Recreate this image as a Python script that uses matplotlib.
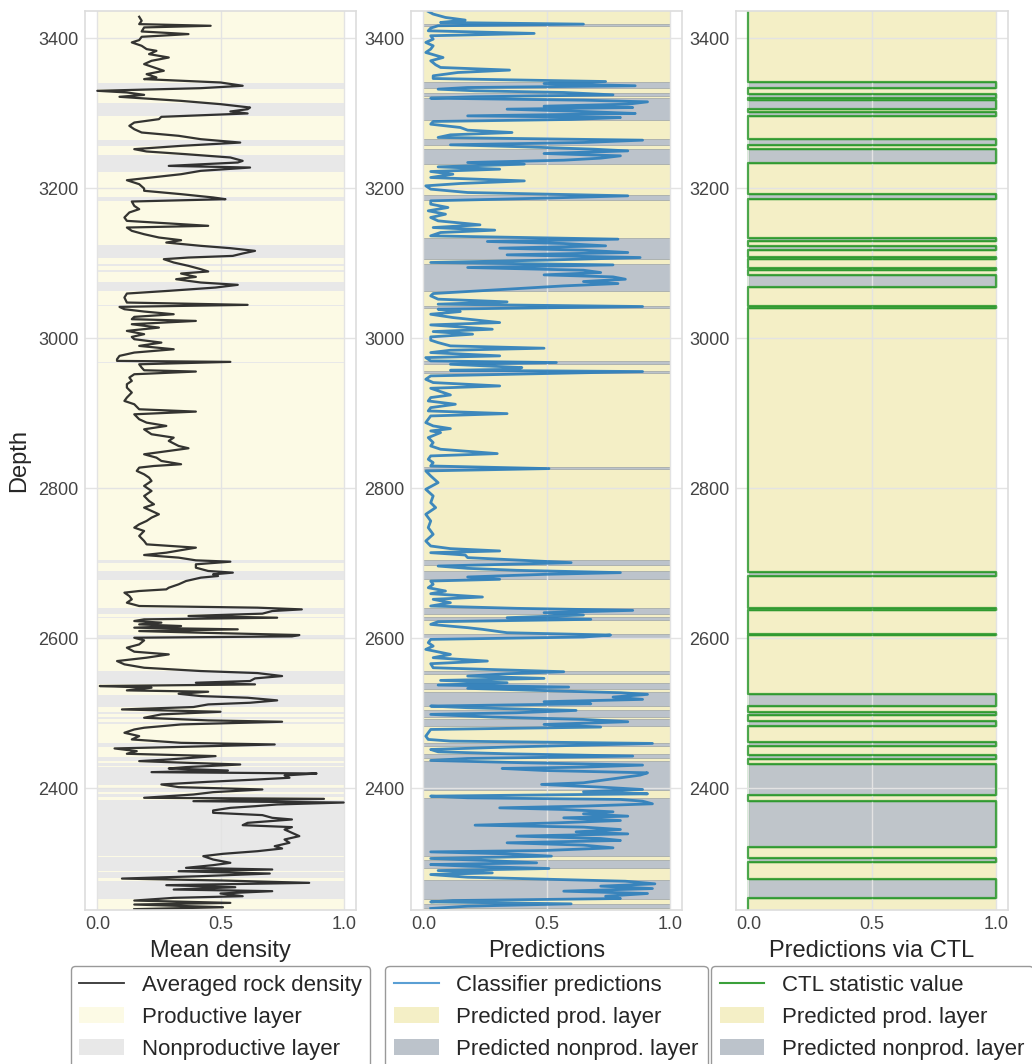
import numpy as np
import matplotlib.pyplot as plt
from matplotlib.lines import Line2D
from matplotlib.patches import Patch

plt.rcParams['font.family'] = ['Liberation Sans', 'DejaVu Sans']

# depth interval of the well section
depth_top = 3437
depth_bottom = 2238

# averaged rock density (panel 1), read top to bottom
rock_depth = [
    3428.9, 3423.6, 3419.1, 3416.9, 3414.7, 3409.3, 3405.8, 3402.2, 3397.8, 3394.7,
    3390.2, 3385.8, 3383.5, 3379.1, 3374.6, 3370.2, 3365.8, 3361.3, 3356.9, 3352.4,
    3348.0, 3345.8, 3341.3, 3336.9, 3333.7, 3330.2, 3328.0, 3324.8, 3322.2, 3316.8,
    3312.4, 3307.9, 3305.7, 3302.6, 3300.0, 3298.2, 3295.5, 3292.4, 3287.9, 3283.5,
    3279.0, 3274.6, 3270.2, 3265.7, 3261.2, 3256.8, 3252.4, 3249.3, 3245.7, 3241.3,
    3236.8, 3234.6, 3230.1, 3227.9, 3223.5, 3219.0, 3214.6, 3211.0, 3205.7, 3199.9,
    3196.9, 3192.4, 3188.0, 3185.7, 3182.6, 3176.8, 3172.4, 3168.0, 3161.3, 3156.8,
    3150.2, 3147.9, 3143.5, 3139.0, 3134.6, 3131.0, 3127.9, 3123.5, 3120.4, 3116.8,
    3113.3, 3110.1, 3107.9, 3105.7, 3101.3, 3096.8, 3092.4, 3089.3, 3086.6, 3082.1,
    3079.0, 3074.6, 3071.5, 3067.9, 3063.5, 3059.9, 3054.6, 3047.9, 3044.8, 3042.1,
    3039.0, 3035.9, 3032.3, 3028.8, 3025.7, 3023.4, 3019.0, 3014.5, 3010.1, 3005.7,
    3002.1, 2999.0, 2994.5, 2990.1, 2985.6, 2981.2, 2976.8, 2972.3, 2970.1, 2968.8,
    2965.6, 2961.2, 2957.6, 2955.9, 2952.3, 2947.9, 2943.4, 2939.0, 2934.5, 2927.9,
    2921.2, 2916.7, 2912.3, 2905.6, 2902.5, 2898.9, 2892.3, 2887.8, 2883.4, 2878.9,
    2872.3, 2867.8, 2863.4, 2856.7, 2853.6, 2850.0, 2845.6, 2841.1, 2836.7, 2832.3,
    2830.0, 2827.8, 2823.4, 2818.9, 2814.5, 2810.0, 2803.4, 2796.7, 2790.0, 2783.3,
    2778.9, 2774.5, 2770.0, 2765.6, 2761.1, 2756.7, 2752.2, 2747.8, 2743.3, 2736.7,
    2730.0, 2725.5, 2721.1, 2718.9, 2714.4, 2711.3, 2707.8, 2704.2, 2702.4, 2698.9,
    2694.4, 2690.0, 2687.8, 2685.5, 2683.3, 2681.1, 2676.6, 2672.2, 2667.7, 2665.5,
    2663.3, 2661.1, 2656.6, 2652.2, 2647.7, 2643.3, 2641.1, 2638.8, 2636.6, 2633.1,
    2630.0, 2627.7, 2625.5, 2623.3, 2621.1, 2618.8, 2616.6, 2614.4, 2612.2, 2609.9,
    2607.7, 2604.6, 2602.8, 2601.0, 2597.5, 2592.1, 2587.7, 2582.4, 2578.8, 2574.4,
    2569.9, 2565.5, 2561.0, 2556.6, 2553.9, 2549.9, 2546.8, 2543.3, 2541.0, 2538.8,
    2536.6, 2534.4, 2530.8, 2529.0, 2526.3, 2523.2, 2521.0, 2517.5, 2514.3, 2512.1,
    2508.6, 2505.4, 2502.3, 2498.8, 2494.3, 2490.8, 2489.0, 2485.4, 2481.0, 2478.7,
    2474.3, 2469.8, 2465.4, 2460.9, 2458.7, 2455.2, 2453.4, 2449.8, 2446.3, 2443.2,
    2438.7, 2436.5, 2434.3, 2432.0, 2428.5, 2426.7, 2424.0, 2421.8, 2420.0, 2417.4,
    2414.3, 2412.0, 2408.9, 2405.4, 2401.8, 2398.7, 2395.1, 2392.0, 2389.8, 2387.6,
    2386.2, 2383.1, 2381.3, 2378.7, 2376.4, 2374.2, 2370.7, 2367.6, 2364.5, 2360.9,
    2358.7, 2354.2, 2351.1, 2348.5, 2345.3, 2340.9, 2336.5, 2332.0, 2327.6, 2323.1,
    2320.0, 2316.4, 2312.9, 2309.8, 2305.3, 2300.9, 2297.8, 2294.2, 2292.0, 2289.7,
    2286.6, 2283.1, 2279.9, 2277.3, 2274.2, 2271.1, 2268.4, 2265.3, 2263.1, 2260.0,
    2256.4, 2254.2, 2250.6, 2247.5, 2245.3, 2241.7, 2239.1,
]
rock_density = [
    0.17, 0.18, 0.17, 0.46, 0.19, 0.18, 0.37, 0.18, 0.17, 0.14,
    0.18, 0.20, 0.24, 0.21, 0.29, 0.22, 0.19, 0.23, 0.27, 0.20,
    0.24, 0.19, 0.50, 0.59, 0.42, 0.00, 0.12, 0.19, 0.09, 0.34,
    0.50, 0.62, 0.61, 0.54, 0.61, 0.47, 0.26, 0.25, 0.15, 0.13,
    0.15, 0.18, 0.33, 0.42, 0.58, 0.34, 0.15, 0.20, 0.36, 0.54,
    0.59, 0.57, 0.29, 0.62, 0.42, 0.34, 0.22, 0.12, 0.17, 0.19,
    0.19, 0.34, 0.47, 0.52, 0.14, 0.15, 0.17, 0.13, 0.11, 0.12,
    0.45, 0.12, 0.14, 0.19, 0.25, 0.34, 0.28, 0.42, 0.54, 0.64,
    0.59, 0.55, 0.37, 0.27, 0.31, 0.37, 0.42, 0.45, 0.34, 0.40,
    0.32, 0.42, 0.57, 0.48, 0.29, 0.12, 0.11, 0.12, 0.61, 0.09,
    0.11, 0.19, 0.31, 0.15, 0.14, 0.40, 0.14, 0.25, 0.12, 0.19,
    0.14, 0.15, 0.26, 0.17, 0.31, 0.15, 0.09, 0.08, 0.08, 0.54,
    0.17, 0.18, 0.19, 0.40, 0.15, 0.13, 0.14, 0.12, 0.12, 0.14,
    0.12, 0.11, 0.15, 0.17, 0.40, 0.15, 0.17, 0.20, 0.28, 0.19,
    0.22, 0.31, 0.29, 0.33, 0.37, 0.29, 0.19, 0.24, 0.26, 0.34,
    0.23, 0.17, 0.16, 0.19, 0.21, 0.22, 0.19, 0.22, 0.19, 0.21,
    0.23, 0.19, 0.22, 0.25, 0.22, 0.20, 0.17, 0.15, 0.19, 0.17,
    0.19, 0.20, 0.40, 0.36, 0.28, 0.19, 0.33, 0.40, 0.54, 0.40,
    0.40, 0.45, 0.55, 0.47, 0.49, 0.42, 0.36, 0.33, 0.29, 0.28,
    0.17, 0.11, 0.13, 0.14, 0.12, 0.17, 0.65, 0.83, 0.71, 0.67,
    0.37, 0.73, 0.19, 0.15, 0.26, 0.17, 0.34, 0.15, 0.57, 0.17,
    0.42, 0.82, 0.79, 0.15, 0.19, 0.17, 0.12, 0.15, 0.29, 0.20,
    0.08, 0.11, 0.19, 0.42, 0.65, 0.75, 0.64, 0.62, 0.40, 0.64,
    0.01, 0.22, 0.12, 0.45, 0.33, 0.42, 0.61, 0.73, 0.62, 0.45,
    0.39, 0.10, 0.50, 0.26, 0.19, 0.45, 0.75, 0.34, 0.19, 0.15,
    0.11, 0.17, 0.14, 0.34, 0.72, 0.31, 0.07, 0.16, 0.12, 0.48,
    0.29, 0.17, 0.36, 0.58, 0.36, 0.29, 0.53, 0.22, 0.89, 0.76,
    0.78, 0.65, 0.45, 0.26, 0.33, 0.67, 0.47, 0.39, 0.29, 0.19,
    0.92, 0.39, 1.00, 0.73, 0.64, 0.54, 0.47, 0.47, 0.67, 0.71,
    0.79, 0.61, 0.59, 0.79, 0.76, 0.79, 0.82, 0.76, 0.78, 0.72,
    0.75, 0.65, 0.51, 0.43, 0.47, 0.54, 0.47, 0.36, 0.71, 0.33,
    0.70, 0.42, 0.10, 0.51, 0.86, 0.28, 0.56, 0.31, 0.71, 0.50,
    0.59, 0.31, 0.15, 0.54, 0.15, 0.51, 0.15,
]

# nonproductive layers (panel 1), (bottom, top) depth
nonprod_layers = [
    (3333, 3341), (3296, 3314), (3257, 3264), (3222, 3245), (3183, 3189),
    (3107, 3125), (3097, 3099), (3089, 3091), (3063, 3075), (3043, 3045),
    (2967, 2969), (2701, 2704), (2678, 2690), (2632, 2640), (2627, 2629),
    (2601, 2605), (2539, 2557), (2508, 2525), (2499.5, 2501.5), (2493, 2495),
    (2486.5, 2488), (2455, 2460.5), (2437, 2442), (2430, 2434), (2405, 2428),
    (2395, 2401), (2388, 2392), (2310.5, 2385), (2290, 2309), (2280, 2288),
    (2253, 2276),
]

# classifier predictions (panel 2)
pred_depth = [
    3436.0, 3432.5, 3428.0, 3424.5, 3421.3, 3419.1, 3416.9, 3413.8, 3410.2, 3406.7,
    3403.6, 3399.1, 3394.7, 3390.2, 3385.8, 3381.3, 3374.6, 3370.2, 3364.9, 3361.3,
    3357.8, 3354.6, 3350.2, 3346.6, 3342.6, 3339.9, 3336.9, 3334.6, 3332.4, 3330.2,
    3328.0, 3324.8, 3322.2, 3320.4, 3317.7, 3315.5, 3312.4, 3309.7, 3307.9, 3305.7,
    3302.6, 3300.0, 3296.8, 3294.6, 3292.0, 3289.3, 3285.7, 3281.3, 3277.7, 3274.6,
    3271.5, 3268.0, 3264.4, 3261.3, 3258.2, 3255.5, 3252.4, 3250.1, 3246.6, 3243.5,
    3240.4, 3237.7, 3234.6, 3232.4, 3228.8, 3225.7, 3222.6, 3219.0, 3214.6, 3210.1,
    3206.6, 3203.5, 3199.1, 3194.6, 3190.2, 3187.1, 3183.5, 3179.1, 3174.6, 3170.2,
    3165.7, 3161.3, 3156.8, 3151.5, 3147.9, 3144.4, 3141.3, 3136.8, 3132.4, 3129.3,
    3126.6, 3123.5, 3120.4, 3117.7, 3114.6, 3111.5, 3107.9, 3104.4, 3101.3, 3098.1,
    3094.6, 3091.0, 3087.9, 3084.8, 3082.1, 3079.0, 3075.9, 3073.2, 3070.1, 3065.7,
    3062.6, 3059.9, 3056.8, 3052.4, 3048.8, 3045.7, 3042.6, 3039.0, 3035.9, 3032.3,
    3027.9, 3021.2, 3018.1, 3012.3, 3009.2, 3005.7, 3002.1, 2997.7, 2994.5, 2990.1,
    2987.0, 2984.3, 2981.2, 2976.8, 2974.5, 2970.1, 2967.9, 2965.6, 2961.2, 2959.0,
    2957.6, 2955.9, 2953.2, 2950.1, 2945.6, 2941.2, 2936.7, 2933.6, 2929.2, 2924.7,
    2921.2, 2916.7, 2912.3, 2907.8, 2903.4, 2899.8, 2896.7, 2892.3, 2887.8, 2883.4,
    2879.8, 2876.7, 2874.5, 2867.8, 2861.2, 2856.7, 2852.3, 2846.5, 2843.4, 2838.9,
    2834.5, 2830.0, 2826.5, 2823.4, 2816.7, 2807.8, 2798.9, 2790.0, 2781.1, 2774.5,
    2765.6, 2756.7, 2747.8, 2738.9, 2730.0, 2723.3, 2719.8, 2716.7, 2714.4, 2711.3,
    2707.8, 2704.2, 2701.1, 2698.9, 2696.6, 2693.5, 2690.9, 2687.8, 2685.5, 2682.0,
    2678.9, 2676.6, 2672.2, 2667.7, 2663.3, 2659.7, 2655.3, 2652.2, 2647.7, 2643.3,
    2640.2, 2637.5, 2634.4, 2631.3, 2627.7, 2625.5, 2622.4, 2618.8, 2614.4, 2612.2,
    2607.7, 2604.6, 2601.9, 2598.8, 2594.4, 2589.9, 2585.5, 2578.8, 2574.4, 2569.9,
    2566.4, 2561.0, 2555.7, 2553.0, 2549.9, 2546.8, 2544.1, 2541.0, 2537.9, 2535.2,
    2533.5, 2530.8, 2527.7, 2525.5, 2521.9, 2518.8, 2515.7, 2513.0, 2509.9, 2507.7,
    2504.1, 2501.0, 2498.8, 2495.2, 2492.1, 2489.0, 2485.4, 2481.9, 2478.7, 2474.3,
    2469.8, 2465.4, 2463.2, 2460.1, 2457.8, 2455.2, 2452.0, 2448.9, 2446.3, 2443.2,
    2440.0, 2437.4, 2434.3, 2431.2, 2428.5, 2426.7, 2424.0, 2420.9, 2417.8, 2414.3,
    2410.7, 2407.6, 2405.4, 2401.8, 2398.7, 2395.6, 2392.9, 2389.8, 2387.6, 2385.4,
    2383.1, 2379.6, 2376.5, 2374.2, 2372.0, 2368.9, 2366.2, 2363.1, 2360.9, 2357.3,
    2354.2, 2351.1, 2348.5, 2345.3, 2342.2, 2339.5, 2336.5, 2333.3, 2330.7, 2327.6,
    2324.5, 2320.9, 2317.3, 2315.5, 2312.9, 2309.8, 2306.7, 2304.0, 2300.9, 2298.6,
    2296.4, 2293.3, 2290.6, 2287.5, 2285.3, 2281.7, 2278.6, 2276.4, 2272.9, 2269.8,
    2266.6, 2263.1, 2260.0, 2256.4, 2253.3, 2250.6, 2248.8, 2246.2, 2243.1, 2240.0,
]
pred_value = [
    0.02, 0.04, 0.09, 0.17, 0.07, 0.65, 0.06, 0.03, 0.02, 0.45,
    0.03, 0.04, 0.01, 0.04, 0.03, 0.01, 0.08, 0.03, 0.05, 0.07,
    0.35, 0.14, 0.04, 0.04, 0.74, 0.49, 0.86, 0.18, 0.06, 0.21,
    0.57, 0.77, 0.20, 0.03, 0.65, 0.91, 0.83, 0.49, 0.85, 0.34,
    0.65, 0.86, 0.18, 0.80, 0.60, 0.04, 0.03, 0.15, 0.18, 0.36,
    0.11, 0.06, 0.89, 0.65, 0.11, 0.41, 0.69, 0.83, 0.49, 0.80,
    0.72, 0.57, 0.18, 0.41, 0.06, 0.31, 0.03, 0.12, 0.03, 0.41,
    0.15, 0.01, 0.03, 0.18, 0.83, 0.49, 0.03, 0.03, 0.10, 0.02,
    0.09, 0.03, 0.06, 0.23, 0.04, 0.29, 0.07, 0.03, 0.79, 0.26,
    0.57, 0.74, 0.31, 0.65, 0.83, 0.34, 0.88, 0.49, 0.03, 0.77,
    0.18, 0.65, 0.72, 0.49, 0.77, 0.82, 0.65, 0.79, 0.57, 0.34,
    0.18, 0.04, 0.03, 0.06, 0.34, 0.06, 0.89, 0.06, 0.15, 0.03,
    0.12, 0.31, 0.03, 0.28, 0.04, 0.20, 0.03, 0.03, 0.06, 0.11,
    0.49, 0.11, 0.03, 0.31, 0.01, 0.03, 0.54, 0.11, 0.40, 0.38,
    0.11, 0.89, 0.49, 0.03, 0.01, 0.04, 0.31, 0.03, 0.07, 0.11,
    0.03, 0.02, 0.13, 0.03, 0.02, 0.34, 0.03, 0.02, 0.01, 0.04,
    0.11, 0.03, 0.07, 0.02, 0.04, 0.03, 0.07, 0.30, 0.03, 0.02,
    0.04, 0.03, 0.51, 0.01, 0.03, 0.06, 0.01, 0.04, 0.03, 0.05,
    0.01, 0.03, 0.02, 0.04, 0.01, 0.03, 0.11, 0.31, 0.03, 0.17,
    0.18, 0.41, 0.60, 0.34, 0.06, 0.18, 0.38, 0.80, 0.49, 0.18,
    0.31, 0.03, 0.04, 0.02, 0.09, 0.03, 0.24, 0.04, 0.11, 0.03,
    0.38, 0.85, 0.49, 0.65, 0.34, 0.68, 0.06, 0.03, 0.18, 0.24,
    0.34, 0.76, 0.65, 0.03, 0.02, 0.04, 0.01, 0.11, 0.04, 0.26,
    0.03, 0.04, 0.57, 0.34, 0.18, 0.49, 0.07, 0.34, 0.06, 0.59,
    0.18, 0.46, 0.80, 0.91, 0.77, 0.89, 0.49, 0.68, 0.03, 0.18,
    0.62, 0.38, 0.03, 0.28, 0.65, 0.83, 0.49, 0.72, 0.03, 0.02,
    0.01, 0.02, 0.11, 0.93, 0.65, 0.34, 0.03, 0.06, 0.34, 0.85,
    0.18, 0.03, 0.41, 0.89, 0.65, 0.32, 0.49, 0.91, 0.88, 0.80,
    0.72, 0.65, 0.48, 0.72, 0.89, 0.65, 0.91, 0.03, 0.18, 0.80,
    0.89, 0.93, 0.65, 0.31, 0.57, 0.77, 0.65, 0.83, 0.57, 0.80,
    0.54, 0.21, 0.65, 0.80, 0.62, 0.83, 0.38, 0.72, 0.80, 0.34,
    0.65, 0.77, 0.49, 0.03, 0.34, 0.52, 0.03, 0.26, 0.46, 0.03,
    0.18, 0.51, 0.06, 0.28, 0.03, 0.18, 0.55, 0.82, 0.94, 0.72,
    0.93, 0.57, 0.91, 0.74, 0.80, 0.12, 0.03, 0.60, 0.18, 0.03,
]

# predicted nonproductive layers (panel 2), (bottom, top) depth
pred_nonprod = [
    (3417, 3419.5), (3334.5, 3342.5), (3323.5, 3327), (3291, 3321), (3258, 3266),
    (3232, 3253), (3184.5, 3191.5), (3105.5, 3134.5), (3063.5, 3099.5),
    (3040.5, 3043.5), (2966, 2970), (2954.5, 2957), (2825.5, 2828),
    (2698, 2704.5), (2679, 2690), (2632, 2641), (2624, 2628), (2601, 2606),
    (2552, 2557), (2532, 2541), (2510, 2528), (2495, 2505), (2483, 2493),
    (2456.5, 2461), (2441, 2445.5), (2398, 2436.5), (2310, 2387), (2294, 2305),
    (2252, 2278.5), (2240, 2246),
]

# CTL statistic: intervals with value 1 (predicted nonproductive), (bottom, top)
ctl_intervals = [
    (3334.2, 3342.2), (3320.0, 3325.3), (3306.2, 3318.6), (3296.4, 3301.7),
    (3257.3, 3265.3), (3234.2, 3252.0), (3186.0, 3192.0), (3129.6, 3134.2),
    (3117.6, 3123.0), (3106.1, 3108.8), (3090.9, 3094.0), (3068.8, 3084.3),
    (3041.2, 3043.8), (2682.8, 2688.6), (2637.5, 2640.6), (2604.1, 2606.3),
    (2510.3, 2525.9), (2497.9, 2501.5), (2483.6, 2489.5), (2457.0, 2461.5),
    (2439.2, 2444.5), (2391.6, 2432.9), (2321.8, 2383.6), (2302.6, 2307.1),
    (2253.7, 2278.9),
]

# colours
prod_1 = '#FCFAE5'
nonprod_1 = '#E8E8E8'
prod_2 = '#F4EFC6'
nonprod_2 = '#BCC3CB'
blue = '#2a7dbb'
green = '#2f9a2f'

fig = plt.figure(figsize=(10.32, 10.64), dpi=100)
W, H = 1032, 1064
bottom = 1 - 910 / H
height = 899.3 / H
ax1 = fig.add_axes([85 / W, bottom, 271 / W, height])
ax2 = fig.add_axes([411 / W, bottom, 271 / W, height])
ax3 = fig.add_axes([736 / W, bottom, 272 / W, height])


def style(ax, xlabel):
    ax.set_xlim(-0.05, 1.05)
    ax.set_ylim(depth_bottom, depth_top)
    ax.set_xticks([0, 0.5, 1.0])
    ax.set_xticklabels(['0.0', '0.5', '1.0'])
    ax.set_yticks(range(2400, 3401, 200))
    ax.tick_params(length=0, labelsize=13, labelcolor='#444444', pad=4.5)
    ax.set_axisbelow('line')
    ax.grid(color='#E3E3E3', lw=1.0)
    for s in ax.spines.values():
        s.set_color('#DDDDDD')
        s.set_linewidth(1.2)
    ax.set_xlabel(xlabel, fontsize=17, color='#262626', labelpad=5)


# panel 1
ax1.fill_betweenx([depth_bottom, depth_top], 0, 1, color=prod_1, lw=0)
for lo, hi in nonprod_layers:
    ax1.fill_betweenx([lo, hi], 0, 1, color=nonprod_1, lw=0)
ax1.plot(rock_density, rock_depth, color='#111111', lw=1.6, alpha=0.85)
style(ax1, 'Mean density')
ax1.set_ylabel('Depth', fontsize=17, color='#262626', labelpad=6)

# panel 2
ax2.fill_betweenx([depth_bottom, depth_top], 0, 1, color=prod_2, lw=0)
for lo, hi in pred_nonprod:
    ax2.fill_betweenx([lo, hi], 0, 1, facecolor=nonprod_2,
                      edgecolor='#A6ACAC', lw=0.6)
ax2.plot(pred_value, pred_depth, color=blue, lw=2.0, alpha=0.9)
style(ax2, 'Predictions')

# panel 3: CTL step line
ctl_d = [depth_top]
ctl_v = [0]
for lo, hi in ctl_intervals:
    ctl_d += [hi, hi, lo, lo]
    ctl_v += [0, 1, 1, 0]
ctl_d.append(depth_bottom)
ctl_v.append(0)
ax3.fill_betweenx([depth_bottom, depth_top], 0, 1, color=prod_2, lw=0)
for lo, hi in ctl_intervals:
    ax3.fill_betweenx([lo, hi], 0, 1, facecolor=nonprod_2, edgecolor=green,
                      lw=1.0, alpha=0.95)
ax3.plot(ctl_v, ctl_d, color=green, lw=1.6, alpha=0.85)
style(ax3, 'Predictions via CTL')

# legends
leg_kw = dict(loc='upper center', bbox_to_anchor=(0.5, -0.062), borderaxespad=0,
              fontsize=16, frameon=True, fancybox=True, edgecolor='#999999',
              framealpha=1)
l1 = ax1.legend(handles=[Line2D([], [], color='#333333', lw=1.3),
                         Patch(facecolor=prod_1, edgecolor='none'),
                         Patch(facecolor=nonprod_1, edgecolor='none')],
                labels=['Averaged rock density', 'Productive layer', 'Nonproductive layer'],
                **leg_kw)
l2 = ax2.legend(handles=[Line2D([], [], color='#5a9fd4', lw=1.5),
                         Patch(facecolor=prod_2, edgecolor='none'),
                         Patch(facecolor=nonprod_2, edgecolor='none')],
                labels=['Classifier predictions', 'Predicted prod. layer',
                        'Predicted nonprod. layer'], **leg_kw)
l3 = ax3.legend(handles=[Line2D([], [], color='#3aa03a', lw=1.5),
                         Patch(facecolor=prod_2, edgecolor='none'),
                         Patch(facecolor=nonprod_2, edgecolor='none')],
                labels=['CTL statistic value', 'Predicted prod. layer',
                        'Predicted nonprod. layer'], **leg_kw)
for lg in (l1, l2, l3):
    for txt in lg.get_texts():
        txt.set_color('#262626')

fig.savefig('out.png', dpi=100)
